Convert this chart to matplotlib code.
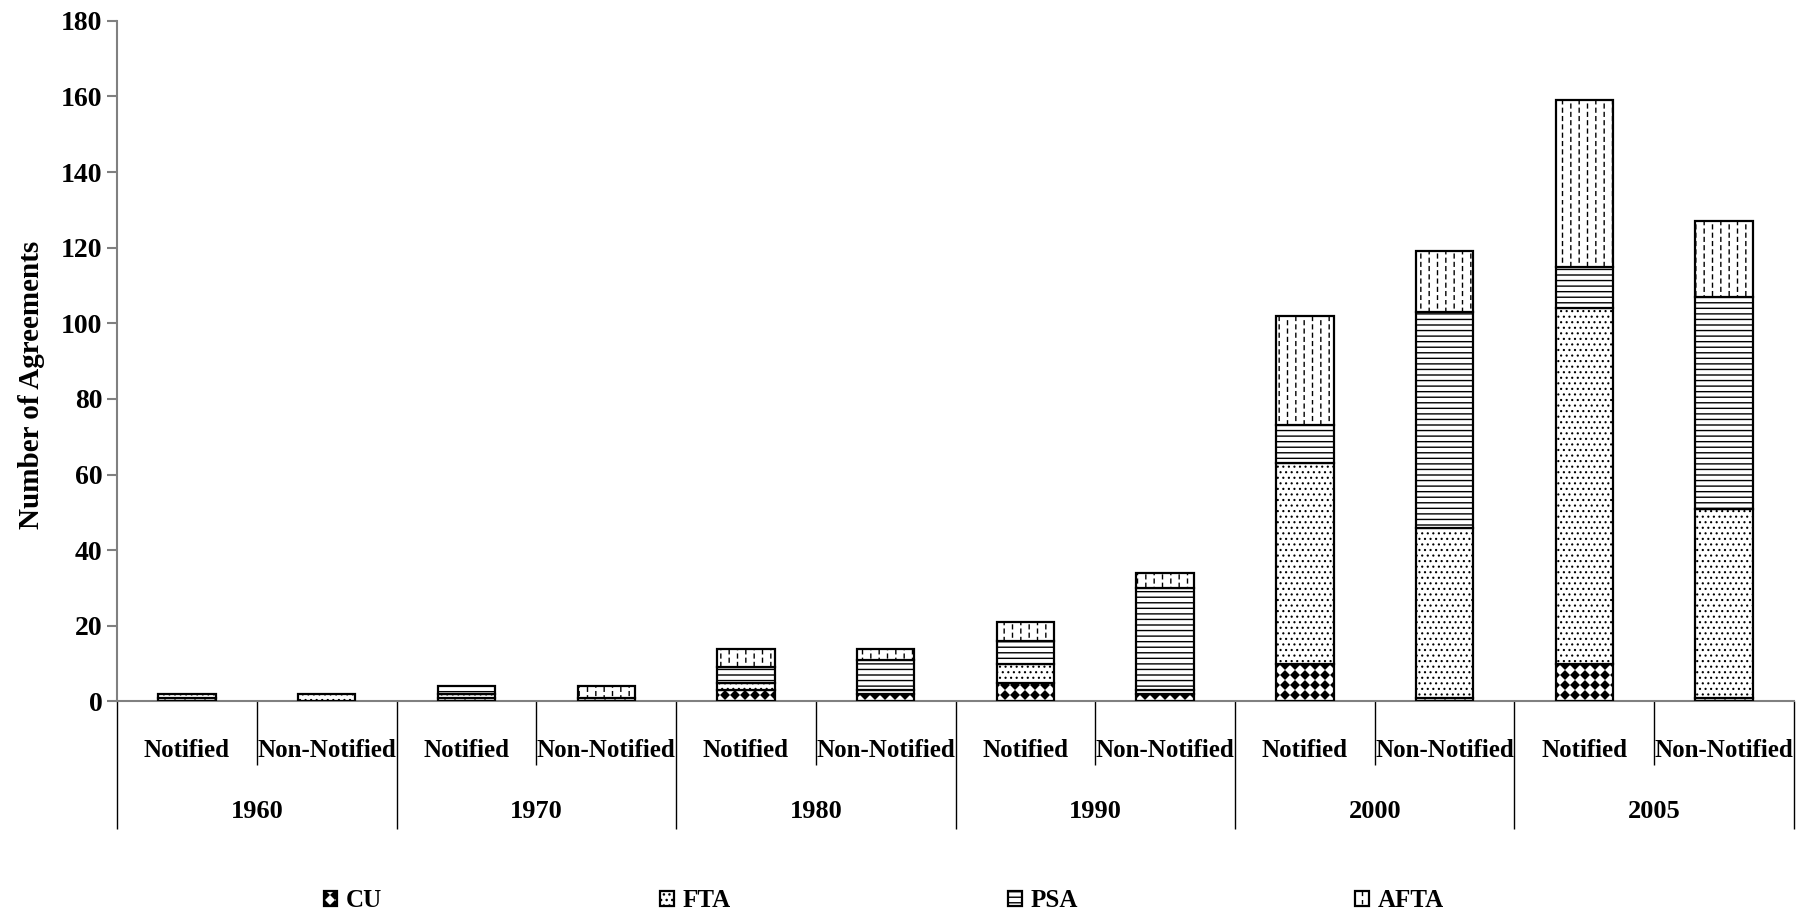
import matplotlib as mpl
import matplotlib.pyplot as plt
import matplotlib.hatch as mhatch
import matplotlib.patches as mpatches
from matplotlib.path import Path
import numpy as np

# agreements per decade, notified / non-notified to the WTO
years = ['1960', '1970', '1980', '1990', '2000', '2005']
status = ['Notified', 'Non-Notified']

cu = [1, 0, 1, 1, 3, 2, 5, 2, 10, 1, 10, 1]
fta = [1, 2, 1, 0, 2, 1, 5, 1, 53, 45, 94, 50]
psa = [0, 0, 2, 0, 4, 8, 6, 27, 10, 57, 11, 56]
afta = [0, 0, 0, 3, 5, 3, 5, 4, 29, 16, 44, 20]

series_names = ['CU', 'FTA', 'PSA', 'AFTA']
y_ticks = [0, 20, 40, 60, 80, 100, 120, 140, 160, 180]


class DiamondHatch(mhatch.HatchPatternBase):
    # 'x' -> grid of filled black diamonds
    def __init__(self, hatch, density):
        self.num = hatch.count('x') * 10
        self.num_vertices = self.num ** 2 * 5

    def set_vertices_and_codes(self, vertices, codes):
        step = 1.0 / self.num
        r = 0.40 * step
        c = (np.arange(self.num) + 0.5) * step
        cx, cy = np.meshgrid(c, c)
        centres = np.column_stack([cx.ravel(), cy.ravel()])
        shape = np.array([[0, -r], [r, 0], [0, r], [-r, 0], [0, -r]])
        vertices[:] = (centres[:, None, :] + shape[None, :, :]).reshape(-1, 2)
        codes[:] = np.tile([Path.MOVETO, Path.LINETO, Path.LINETO,
                            Path.LINETO, Path.CLOSEPOLY], self.num ** 2)


class DashedColumnHatch(mhatch.HatchPatternBase):
    # '|' -> staggered columns of short vertical dashes
    def __init__(self, hatch, density):
        self.num = hatch.count('|') * 12
        self.num_vertices = self.num ** 2 * 2

    def set_vertices_and_codes(self, vertices, codes):
        step = 1.0 / self.num
        k = 0
        for i in range(self.num):
            x = (i + 0.5) * step
            shift = 0.5 * step if i % 2 else 0.0
            for j in range(self.num):
                y0 = j * step + shift + 0.05 * step
                vertices[k] = (x, y0)
                vertices[k + 1] = (x, y0 + 0.45 * step)
                codes[k] = Path.MOVETO
                codes[k + 1] = Path.LINETO
                k += 2


mhatch._hatch_types[:] = [mhatch.HorizontalHatch, mhatch.SmallFilledCircles,
                          DiamondHatch, DashedColumnHatch]


def main():
    plt.rcParams['font.family'] = ['Liberation Serif', 'DejaVu Serif']
    plt.rcParams['font.weight'] = 'bold'
    plt.rcParams['hatch.linewidth'] = 1.0

    fig = plt.figure(figsize=(18.15, 9.19), dpi=100)
    ax = fig.add_axes([0.0645, 0.2367, 0.9239, 0.7407])

    x = np.arange(len(cu))
    series = [cu, fta, psa, afta]
    hatches = ['x', '...', '---', '|']
    hatch_lw = [1.0, 0.8, 1.0, 1.0]
    bottom = np.zeros(len(x))
    handles = []
    for vals, h, hlw, name in zip(series, hatches, hatch_lw, series_names):
        vals = np.array(vals, dtype=float)
        lw = np.where(vals > 0, 1.6, 0.0)
        with plt.rc_context({'hatch.linewidth': hlw}):
            ax.bar(x, vals, 0.41, bottom=bottom, color='white', edgecolor='black',
                   linewidth=lw, hatch=h, zorder=3)
            handles.append(mpatches.Patch(facecolor='white', edgecolor='black',
                                          linewidth=1.6, hatch=h, label=name))
        bottom += vals

    ax.set_xlim(-0.5, len(x) - 0.5)
    ax.set_ylim(0, 180)
    ax.set_yticks(y_ticks)
    ax.tick_params(axis='y', length=7, width=1.5, color='#808080', pad=3.5,
                   labelsize=20)
    for lab in ax.get_yticklabels():
        lab.set_fontweight('bold')

    # group separators as long ticks, status separators as short ones
    ax.set_xticks(np.arange(-0.5, len(x), 2))
    ax.set_xticks(np.arange(0.5, len(x), 2), minor=True)
    ax.tick_params(axis='x', which='major', length=91.8, width=1.0, color='black',
                   labelbottom=False)
    ax.tick_params(axis='x', which='minor', length=46.4, width=1.0, color='black',
                   labelbottom=False)

    for s in ['top', 'right']:
        ax.spines[s].set_visible(False)
    for s in ['left', 'bottom']:
        ax.spines[s].set_color('#808080')
        ax.spines[s].set_linewidth(1.5)

    trans = mpl.transforms.blended_transform_factory(ax.transData, ax.transAxes)
    for i in x:
        ax.text(i, -0.0725, status[i % 2], transform=trans, ha='center', va='center',
                fontsize=18, fontweight='bold')
    for k, yr in enumerate(years):
        ax.text(2 * k + 0.5, -0.161, yr, transform=trans, ha='center', va='center',
                fontsize=19, fontweight='bold')

    fig.text(0.0175, 1 - 385 / 919, 'Number of Agreements', rotation=90,
             ha='center', va='center', fontsize=21, fontweight='bold')

    fig.legend(handles=handles, loc='center',
               bbox_to_anchor=(0.487, 0.02), ncol=4, frameon=False,
               fontsize=18, handlelength=0.55, handleheight=0.55,
               handletextpad=0.35, columnspacing=11.1, borderaxespad=0)

    fig.savefig('out.png', dpi=100)


if __name__ == "__main__":
    main()
